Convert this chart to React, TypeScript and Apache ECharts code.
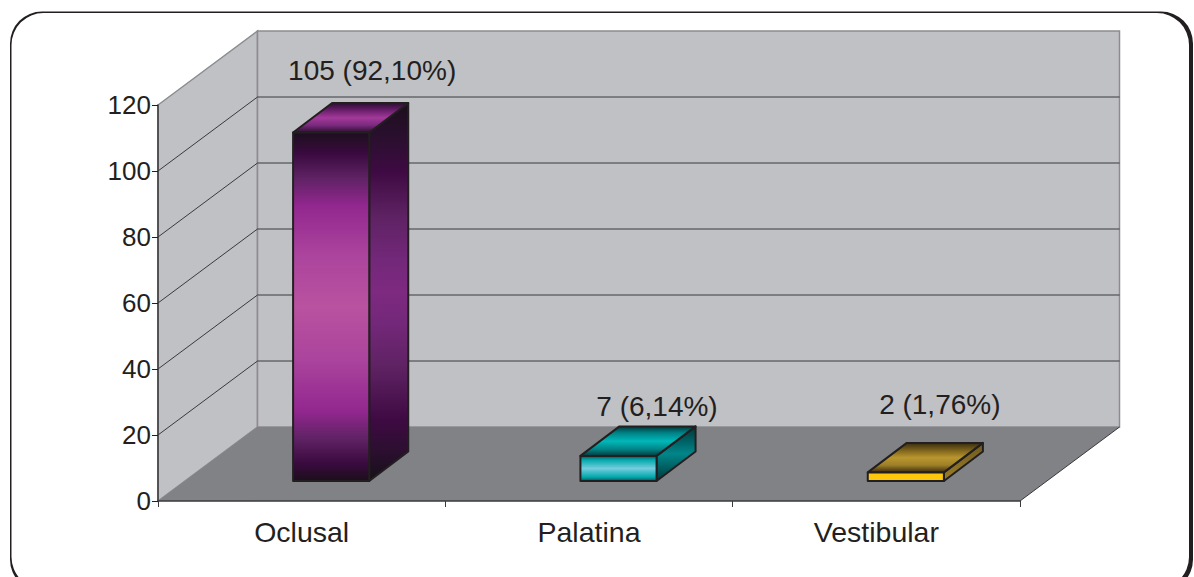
import React, { useEffect, useRef } from "react";
import * as echarts from "echarts";

const categories = ["Oclusal", "Palatina", "Vestibular"];
const counts = [105, 7, 2];
const shares = ["92,10%", "6,14%", "1,76%"];
const wallTicks = [20, 40, 60, 80, 100];
const INK = "#231f20";
const FONT = "'Liberation Sans', Arial, sans-serif";

// Projection of the depth axis: how far the back wall sits from the front plane.
const WALL_DX = 99.5;
const WALL_DY = 74;
// Bars stand partway into the floor and have their own depth.
const BAR_DX = 29.5;
const BAR_DY = 20;
const BAR_DEPTH_DX = 39;
const BAR_DEPTH_DY = 29.5;
const BAR_WIDTH_RATIO = 0.265;
// The outline sits just outside the value, so the top edge is raised by its width.
const BAR_TOP_LIFT = 2;
// Hand placement of each value label, measured from the bar's front-face centre and rear top edge.
const labelShiftX = [41, 38.5, 34];
const labelShiftY = [33, 20, 38];

type Stops = [number, string][];
const frontStops: Stops[] = [
  [[0, "#1c0f1e"], [0.06, "#3a0a3f"], [0.13, "#5e2263"], [0.21, "#92278f"], [0.35, "#ab449d"], [0.5, "#b9529f"], [0.65, "#ab449d"], [0.8, "#92278f"], [0.88, "#5e2263"], [0.95, "#3a0a3f"], [1, "#1a0f1a"]],
  [[0, "#00565a"], [0.15, "#00a7aa"], [0.5, "#73cede"], [0.85, "#00a7aa"], [1, "#00565a"]],
  [[0, "#fdc70c"], [1, "#fdc70c"]],
];
const sideStops: Stops[] = [
  [[0, "#1c0f1e"], [0.1, "#2c0f30"], [0.18, "#3e0a42"], [0.3, "#5e2263"], [0.42, "#74287a"], [0.5, "#7d2a80"], [0.58, "#74287a"], [0.7, "#5e2263"], [0.84, "#3e0a42"], [0.92, "#2c0f30"], [1, "#160f18"]],
  [[0, "#003638"], [0.5, "#00868a"], [1, "#00383a"]],
  [[0, "#6f5a1e"], [1, "#9c7e28"]],
];
const topStops: Stops[] = [
  [[0, "#2a0f2f"], [0.25, "#6a1f6c"], [0.5, "#a3399a"], [0.75, "#7b2a7f"], [1, "#2a0f2f"]],
  [[0, "#00383a"], [0.22, "#008285"], [0.5, "#00b8b8"], [0.78, "#008285"], [1, "#003a3c"]],
  [[0, "#3a2d10"], [0.3, "#8a6d1f"], [0.5, "#b8962e"], [0.75, "#a08028"], [1, "#3a2d10"]],
];

const vertical = (stops: Stops) =>
  new echarts.graphic.LinearGradient(0, 0, 0, 1, stops.map(([offset, color]) => ({ offset, color })));

// Side wall, back wall and floor of the box that holds the bars.
function renderWalls(params: any) {
  const { x, y, width, height } = params.coordSys;
  const bottom = y + height;
  const right = x + width;
  const edge = { stroke: "#8a8c8f", lineWidth: 1.5 };
  return {
    type: "group",
    children: [
      {
        type: "polygon",
        shape: { points: [[x, y], [x + WALL_DX, y - WALL_DY], [x + WALL_DX, bottom - WALL_DY], [x, bottom]] },
        style: { fill: "#c0c1c5", ...edge },
      },
      {
        type: "rect",
        shape: { x: x + WALL_DX, y: y - WALL_DY, width, height },
        style: { fill: "#c0c1c5", ...edge },
      },
      {
        type: "polygon",
        shape: { points: [[x, bottom], [x + WALL_DX, bottom - WALL_DY], [right + WALL_DX, bottom - WALL_DY], [right, bottom]] },
        style: { fill: "#808285" },
      },
      {
        type: "line",
        shape: { x1: right, y1: bottom, x2: right + WALL_DX, y2: bottom - WALL_DY },
        style: { stroke: "#3a3a3c", lineWidth: 1 },
      },
    ],
  };
}

// One gridline per tick: up the side wall, then across the back wall.
function renderGridline(params: any, api: any) {
  const { x, width } = params.coordSys;
  const [, py] = api.coord([0, api.value(1)]);
  const style = { stroke: "#3a3a3c", lineWidth: 1, fill: "none" };
  return {
    type: "polyline",
    shape: {
      points: [[x, py], [x + WALL_DX, py - WALL_DY], [x + width + WALL_DX, py - WALL_DY]],
    },
    style,
  };
}

function renderBar(params: any, api: any) {
  const i = api.value(0);
  const [cx, yTop] = api.coord([i, api.value(1)]);
  const [, yBase] = api.coord([i, 0]);
  const w = api.size([1, 0])[0] * BAR_WIDTH_RATIO;
  const left = cx + BAR_DX - w / 2;
  const right = left + w;
  const top = yTop - BAR_DY - BAR_TOP_LIFT;
  const base = yBase - BAR_DY;
  const stroke = { stroke: INK, lineWidth: 2, lineJoin: "round" };
  return {
    type: "group",
    children: [
      {
        type: "polygon",
        shape: { points: [[right, top], [right + BAR_DEPTH_DX, top - BAR_DEPTH_DY], [right + BAR_DEPTH_DX, base - BAR_DEPTH_DY], [right, base]] },
        style: { fill: vertical(sideStops[i]), ...stroke },
      },
      {
        type: "polygon",
        shape: { points: [[left, top], [left + BAR_DEPTH_DX, top - BAR_DEPTH_DY], [right + BAR_DEPTH_DX, top - BAR_DEPTH_DY], [right, top]] },
        style: { fill: vertical(topStops[i]), ...stroke },
      },
      {
        type: "rect",
        shape: { x: left, y: top, width: w, height: base - top },
        style: { fill: vertical(frontStops[i]), ...stroke },
      },
      {
        type: "text",
        style: {
          x: cx + BAR_DX + labelShiftX[i],
          y: top - BAR_DEPTH_DY - labelShiftY[i],
          text: `${counts[i]} (${shares[i]})`,
          fill: INK,
          fontFamily: FONT,
          fontSize: 28,
          align: "center",
          verticalAlign: "middle",
        },
      },
    ],
  };
}

export default function App() {
  const host = useRef<HTMLDivElement>(null);

  useEffect(() => {
    const chart = echarts.init(host.current!, undefined, { renderer: "svg" });
    chart.setOption({
      animation: false,
      backgroundColor: "#ffffff",
      grid: { left: 158, top: 105, width: 862, height: 396 },
      xAxis: {
        type: "category",
        data: categories,
        z: 6,
        axisLine: { lineStyle: { color: "#3a3a3c", width: 1.5 } },
        axisTick: { show: true, length: 6, lineStyle: { color: "#3a3a3c", width: 1 } },
        axisLabel: { color: INK, fontFamily: FONT, fontSize: 28.5, margin: 16 },
      },
      yAxis: {
        type: "value",
        min: 0,
        max: 120,
        interval: 20,
        z: 6,
        splitLine: { show: false },
        axisLine: { show: true, lineStyle: { color: "#3a3a3c", width: 1.5 } },
        axisTick: { show: true, length: 6, lineStyle: { color: INK, width: 1 } },
        axisLabel: { color: INK, fontFamily: FONT, fontSize: 26, margin: 7 },
      },
      graphic: [
        // Rounded frame: the dark plate shows as a heavier edge along the right.
        { type: "rect", z: -2, silent: true, shape: { x: 10, y: 11.5, width: 1183, height: 580, r: 32 }, style: { fill: INK } },
        { type: "rect", z: -1, silent: true, shape: { x: 11.5, y: 13, width: 1177.5, height: 576, r: 32 }, style: { fill: "#ffffff" } },
      ],
      series: [
        { type: "custom", z: 2, silent: true, clip: false, renderItem: renderWalls, data: [[0, 0]], encode: { x: 0, y: 1 } },
        { type: "custom", z: 3, silent: true, clip: false, renderItem: renderGridline, data: wallTicks.map((t) => [0, t]), encode: { x: 0, y: 1 } },
        { type: "custom", z: 8, silent: true, clip: false, renderItem: renderBar, data: counts.map((c, i) => [i, c]), encode: { x: 0, y: 1 } },
      ],
    });
    return () => chart.dispose();
  }, []);

  return <div ref={host} style={{ position: "fixed", left: 0, top: 0, width: 1194, height: 577 }} />;
}
